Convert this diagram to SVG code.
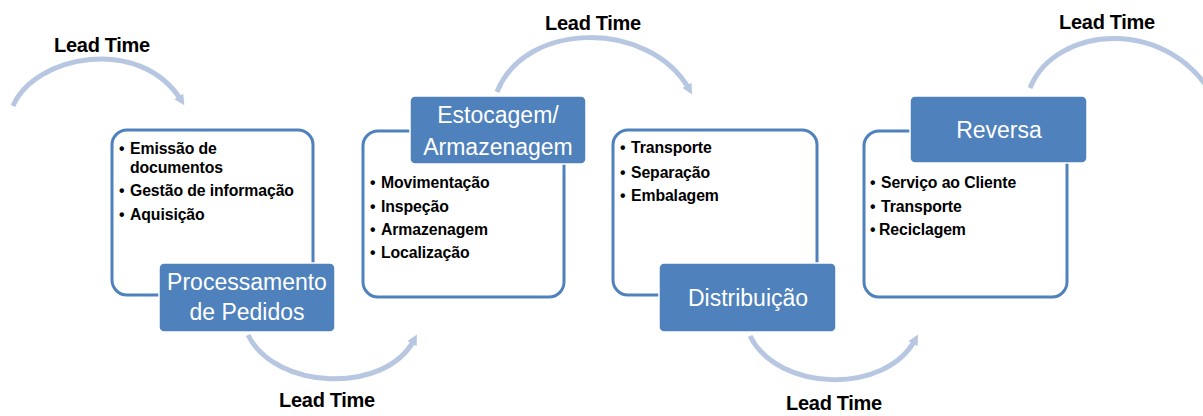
<svg xmlns="http://www.w3.org/2000/svg" width="1203" height="416" viewBox="0 0 1203 416">
  <style>
    .card { fill: #ffffff; stroke: #4F81BD; stroke-width: 3; }
    .label { fill: #4F81BD; stroke: #ffffff; stroke-width: 1.5; }
    .ltxt { font-family: "Liberation Sans", Arial, sans-serif; font-size: 23px; fill: #ffffff; text-anchor: middle; }
    .item { font-family: "Liberation Sans", Arial, sans-serif; font-size: 15.8px; font-weight: bold; fill: #000000; letter-spacing: -0.1px; }
    .lead { font-family: "Liberation Sans", Arial, sans-serif; font-size: 20px; font-weight: bold; fill: #000000; text-anchor: middle; letter-spacing: -0.3px; }
    .arc { fill: none; stroke: #B7C7E2; stroke-width: 5; stroke-linecap: butt; }
  </style>
  <defs>
    <marker id="tip" viewBox="0 0 10 10" refX="4" refY="5" markerWidth="2.1" markerHeight="2.1" orient="auto" markerUnits="strokeWidth">
      <path d="M0,0 L10,5 L0,10 z" fill="#B7C7E2"/>
    </marker>
  </defs>
  <rect width="1203" height="416" fill="#ffffff"/>

  <g id="connectors">
    <path class="arc" d="M13 106 C35 55 140 35 181 100" marker-end="url(#tip)"/>
    <path class="arc" d="M248 335 C275 390 385 395 414 340" marker-end="url(#tip)"/>
    <path class="arc" d="M497 92 C525 20 650 20 689 89" marker-end="url(#tip)"/>
    <path class="arc" d="M750 336 C778 392 885 395 915 340" marker-end="url(#tip)"/>
    <path class="arc" d="M1030 88 C1055 25 1170 15 1215 100"/>
  </g>

  <g id="lead-times">
    <text class="lead" x="102" y="52">Lead Time</text>
    <text class="lead" x="593" y="30">Lead Time</text>
    <text class="lead" x="1107" y="29">Lead Time</text>
    <text class="lead" x="327" y="407">Lead Time</text>
    <text class="lead" x="834" y="410">Lead Time</text>
  </g>

  <g id="node-processamento">
    <rect class="card" x="112" y="130" width="201" height="165" rx="15"/>
    <text class="item" x="119" y="154">•</text>
    <text class="item" x="130" y="154">Emissão de</text>
    <text class="item" x="130" y="173">documentos</text>
    <text class="item" x="119" y="196">•</text>
    <text class="item" x="130" y="196">Gestão de informação</text>
    <text class="item" x="119" y="220">•</text>
    <text class="item" x="130" y="220">Aquisição</text>
    <rect class="label" x="159" y="263" width="176" height="69" rx="5"/>
    <text class="ltxt" x="247" y="290">Processamento</text>
    <text class="ltxt" x="247" y="320">de Pedidos</text>
  </g>

  <g id="node-estocagem">
    <rect class="card" x="363" y="131" width="201" height="166" rx="15"/>
    <rect class="label" x="410" y="96" width="176" height="68" rx="5"/>
    <text class="ltxt" x="498" y="123">Estocagem/</text>
    <text class="ltxt" x="498" y="155">Armazenagem</text>
    <text class="item" x="370" y="188">•</text>
    <text class="item" x="381" y="188">Movimentação</text>
    <text class="item" x="370" y="212">•</text>
    <text class="item" x="381" y="212">Inspeção</text>
    <text class="item" x="370" y="235">•</text>
    <text class="item" x="381" y="235">Armazenagem</text>
    <text class="item" x="370" y="258">•</text>
    <text class="item" x="381" y="258">Localização</text>
  </g>

  <g id="node-distribuicao">
    <rect class="card" x="613" y="130" width="204" height="165" rx="15"/>
    <text class="item" x="620" y="153">•</text>
    <text class="item" x="631" y="153">Transporte</text>
    <text class="item" x="620" y="178">•</text>
    <text class="item" x="631" y="178">Separação</text>
    <text class="item" x="620" y="201">•</text>
    <text class="item" x="631" y="201">Embalagem</text>
    <rect class="label" x="659" y="263" width="177" height="69" rx="5"/>
    <text class="ltxt" x="748" y="306">Distribuição</text>
  </g>

  <g id="node-reversa">
    <rect class="card" x="864" y="131" width="203" height="166" rx="15"/>
    <rect class="label" x="910" y="96" width="177" height="67" rx="5"/>
    <text class="ltxt" x="999" y="138">Reversa</text>
    <text class="item" x="870" y="188">•</text>
    <text class="item" x="881" y="188">Serviço ao Cliente</text>
    <text class="item" x="870" y="212">•</text>
    <text class="item" x="881" y="212">Transporte</text>
    <text class="item" x="870" y="235">•</text>
    <text class="item" x="879" y="235">Reciclagem</text>
  </g>
</svg>
